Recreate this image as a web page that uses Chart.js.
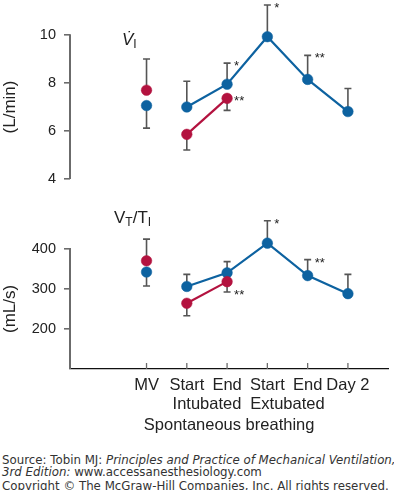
<!DOCTYPE html>
<html><head><meta charset="utf-8">
<script src="https://cdn.jsdelivr.net/npm/chart.js@4/dist/chart.umd.min.js"></script>
<style>
html,body{margin:0;padding:0;background:#fff;}
body{width:394px;height:490px;position:relative;overflow:hidden;font-family:"Liberation Sans",Arial,sans-serif;}
canvas{position:absolute;left:0;top:0;}
.lab{position:absolute;font-size:17px;color:#222;white-space:nowrap;line-height:1;}
.lab sub{font-size:12px;vertical-align:-3px;}
.foot{position:absolute;left:2px;font-family:"DejaVu Sans",Verdana,sans-serif;font-size:11.8px;color:#333;white-space:nowrap;line-height:13px;}
</style></head>
<body>
<div style="position:absolute;left:0;top:0;width:394px;height:200px"><canvas id="c1" width="394" height="200"></canvas></div>
<div style="position:absolute;left:0;top:200px;width:394px;height:250px"><canvas id="c2" width="394" height="250"></canvas></div>
<div class="lab" style="left:122px;top:31px;"><i>V̇</i><sub>I</sub></div>
<div class="lab" style="left:114px;top:209px;">V<sub>T</sub>/T<sub>I</sub></div>
<div class="foot" style="top:453.5px;">Source: Tobin MJ: <i>Principles and Practice of Mechanical Ventilation,</i></div>
<div class="foot" style="top:465.5px;"><i>3rd Edition:</i> www.accessanesthesiology.com</div>
<div class="foot" style="top:479.5px;">Copyright © The McGraw-Hill Companies, Inc. All rights reserved.</div>
<script>
const categories = ['MV', 'Start', 'End', 'Start', 'End', 'Day 2'];
const groupLabels = [['Intubated', 1.5], ['Extubated', 3.5]];
const xTitle = 'Spontaneous breathing';

const viBlue = [7.06, 7.0, 7.95, 9.93, 8.15, 6.81];
const viRed = [7.7, 5.86, 7.36, null, null, null];
const viBlueErr = [6.12, 8.07, 8.83, 11.25, 9.15, 7.77];
const viRedErr = [9.0, 5.21, 6.86, null, null, null];
const viStars = [[2, 8.83, '*'], [3, 11.25, '*'], [4, 9.15, '**'], [2, 7.36, '**']];
const viTicks = [4, 6, 8, 10];

const vtBlue = [342, 306, 340, 414, 333, 288];
const vtRed = [370, 264, 318, null, null, null];
const vtBlueErr = [307, 336, 368, 470, 373, 336];
const vtRedErr = [424, 233, 292, null, null, null];
const vtStars = [[3, 470, '*'], [4, 373, '**'], [2, 292, '**']];
const vtTicks = [200, 300, 400];

const BLUE = '#0d62a0', RED = '#b3123f', GREY = '#6b6b6b', TXT = '#222';
const FONT = '"Liberation Sans", Arial, sans-serif';

function ds(vals, color, errs) {
  return {
    data: vals.map((v, i) => ({x: i, y: v})),
    errs: errs,
    borderColor: color, backgroundColor: color,
    pointBackgroundColor: color, pointBorderColor: color,
    borderWidth: 2.2, pointRadius: 5.3, pointHoverRadius: 5.3, pointBorderWidth: 0.5,
    showLine: true, spanGaps: false,
    segment: { borderColor: c => c.p0DataIndex === 0 ? 'rgba(0,0,0,0)' : undefined }
  };
}

const errPlugin = {
  id: 'err',
  beforeDatasetsDraw(chart, args, opts) {
    const {ctx} = chart, xs = chart.scales.x, ys = chart.scales.y;
    ctx.save();
    const yTop = ys.getPixelForValue(opts.ticks[opts.ticks.length - 1]);
    const yBot = chart.chartArea.bottom;
    ctx.strokeStyle = GREY; ctx.lineWidth = 2;
    ctx.beginPath(); ctx.moveTo(chart.chartArea.left, yTop - 0.8); ctx.lineTo(chart.chartArea.left, yBot); ctx.stroke();
    ctx.fillStyle = TXT; ctx.font = '17px ' + FONT; ctx.textAlign = 'center'; ctx.textBaseline = 'middle';
    ctx.translate(10, (yTop + yBot) / 2); ctx.rotate(-Math.PI / 2);
    ctx.fillText(opts.title, 0, 0);
    ctx.setTransform(1, 0, 0, 1, 0, 0);
    ctx.strokeStyle = '#555'; ctx.lineWidth = 1.6;
    chart.data.datasets.forEach(d => {
      d.data.forEach((p, i) => {
        const e = d.errs[i];
        if (p.y == null || e == null) return;
        const x = xs.getPixelForValue(i), y0 = ys.getPixelForValue(p.y), y1 = ys.getPixelForValue(e);
        ctx.beginPath(); ctx.moveTo(x, y0); ctx.lineTo(x, y1);
        ctx.moveTo(x - 3.5, y1); ctx.lineTo(x + 3.5, y1); ctx.stroke();
      });
    });
    ctx.restore();
  },
  afterDatasetsDraw(chart, args, opts) {
    const {ctx} = chart, xs = chart.scales.x, ys = chart.scales.y;
    ctx.save();
    ctx.fillStyle = TXT; ctx.font = '13px ' + FONT; ctx.textAlign = 'left'; ctx.textBaseline = 'alphabetic';
    opts.stars.forEach(([i, v, t]) => {
      ctx.fillText(t, xs.getPixelForValue(i) + 7, ys.getPixelForValue(v) + 7);
    });
    if (opts.bottom) {
      const b = chart.chartArea.bottom;
      ctx.strokeStyle = GREY; ctx.lineWidth = 1.3;
      categories.forEach((c, i) => {
        const x = xs.getPixelForValue(i);
        ctx.beginPath(); ctx.moveTo(x, b - 6); ctx.lineTo(x, b); ctx.stroke();
      });
      ctx.fillStyle = TXT; ctx.font = '16.5px ' + FONT; ctx.textAlign = 'center'; ctx.textBaseline = 'middle';
      groupLabels.forEach(([t, v]) => ctx.fillText(t, xs.getPixelForValue(v), b + 35));
    }
    ctx.restore();
  }
};

function makeChart(id, blue, red, blueErr, redErr, stars, ticks, ymin, ymax, title, pad, bottom, xHeight) {
  return new Chart(document.getElementById(id), {
    type: 'line',
    data: { datasets: [ds(red, RED, redErr), ds(blue, BLUE, blueErr)] },
    options: {
      responsive: false, animation: false,
      clip: false,
      layout: { padding: pad },
      plugins: { legend: {display: false}, tooltip: {enabled: false}, err: {stars: stars, bottom: bottom, ticks: ticks, title: title} },
      scales: {
        x: {
          type: 'linear', min: -1.9, max: 6, display: bottom,
          afterBuildTicks: s => { s.ticks = categories.map((c, i) => ({value: i})); },
          afterFit: s => { if (bottom) s.height = xHeight; },
          ticks: { callback: v => categories[v], autoSkip: false, maxRotation: 0, padding: 7, color: TXT, font: {family: FONT, size: 16.5} },
          grid: { display: false, drawTicks: false },
          border: { display: true, color: '#111', width: 1.3 },
          title: { display: true, text: xTitle, color: TXT, font: {family: FONT, size: 16.5}, padding: {top: 15, bottom: 15} }
        },
        y: {
          min: ymin, max: ymax,
          afterBuildTicks: s => { s.ticks = ticks.map(v => ({value: v})); },
          afterFit: s => { s.width = 70; },
          ticks: { padding: 8, color: TXT, font: {family: FONT, size: 14.5} },
          grid: { drawOnChartArea: false, drawTicks: true, tickLength: 6, color: GREY, lineWidth: 1.6 },
          border: { display: false },
          title: { display: false }
        }
      }
    },
    plugins: [errPlugin]
  });
}

makeChart('c1', viBlue, viRed, viBlueErr, viRedErr, viStars, viTicks, 4, 10, '(L/min)', {top: 35, bottom: 21, left: 0, right: 0}, false, 0);
makeChart('c2', vtBlue, vtRed, vtBlueErr, vtRedErr, vtStars, vtTicks, 100, 480, '(mL/s)', {top: 14.5, bottom: 0, left: 0, right: 0}, true, 81);
</script>
</body></html>
